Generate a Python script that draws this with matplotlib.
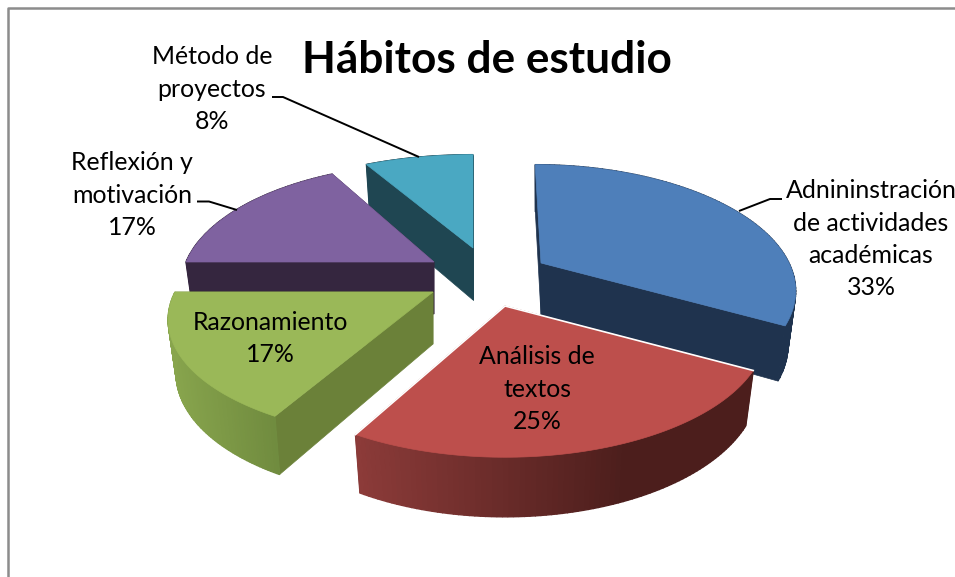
import numpy as np
import matplotlib
matplotlib.use('Agg')
import matplotlib.pyplot as plt
from matplotlib.colors import to_rgb

plt.rcParams['font.family'] = ['Lato', 'DejaVu Sans']

titulo = 'Hábitos de estudio'
categorias = ['Adnininstración\nde actividades\nacadémicas', 'Análisis de\ntextos', 'Razonamiento',
              'Reflexión y\nmotivación', 'Método de\nproyectos']
valores = [33, 25, 17, 17, 8]

colores = ['#4e7fba', '#bd4f4c', '#9ab858', '#7f62a0', '#4aa8c2']
caras = ['#1f334e', '#4e1f1d', '#6b8139', '#35263f', '#1f4652']
# shade of the outer rim, left end -> right end
rim_izq = ['#1f334e', '#8c3b39', '#88a54d', '#35263f', '#1f4652']
rim_der = ['#1f334e', '#4c1e1c', '#6f8a3e', '#35263f', '#1f4652']

# per slice geometry, pixels: apex x, apex y, radius x, radius y, skew
vertices = [(541, 263), (505, 306), (433, 292), (434, 262), (473, 248)]
radio_x = [248, 256, 258, 248, 260]
radio_y = [118, 121, 117, 118, 112]
sesgo = [7, 0, -7, 0, 0]
PERSP = 0.2
ALTO = 52

# back to front
orden = [4, 3, 0, 2, 1]

# text centre x, first line y
etiq_pos = [(871, 191), (537, 357), (270, 322), (132, 163), (212, 57)]
guias = [[(782, 199), (770, 199), (739, 211)], None, None,
         [(197, 201.5), (209, 201.5), (237, 210)],
         [(272, 97), (283, 97), (419, 157)]]


def borde(i, t):
    # top edge of slice i for angles t (degrees, clockwise from 12 o'clock)
    t = np.radians(t)
    w = 1 + PERSP * np.cos(t)
    x = (radio_x[i] * np.sin(t) - sesgo[i] * np.cos(t)) / w
    y = -radio_y[i] * np.cos(t) / w
    return vertices[i][0] + x, vertices[i][1] + y


def abajo(i, x, y):
    # same points on the bottom face
    x0, y0 = vertices[i]
    return x0 + (x - x0) * 0.97, y0 + (y - y0) * 1.05 + ALTO


def mezcla(c1, c2, f):
    return tuple((1 - f) * a + f * b for a, b in zip(to_rgb(c1), to_rgb(c2)))


fig = plt.figure(figsize=(9.55, 5.77), dpi=100)
ax = fig.add_axes([0, 0, 1, 1])
ax.set_xlim(0, 955)
ax.set_ylim(577, 0)
ax.axis('off')

# chart frame, runs off the picture at right and bottom
ax.plot([8, 8, 955], [577, 8, 8], color='#8c8c8c', lw=1.8)

fin = np.cumsum(valores) / np.sum(valores) * 360
ini = np.concatenate([[0], fin[:-1]])

for i in orden:
    t = np.linspace(ini[i], fin[i], 90)
    x, y = borde(i, t)
    xb, yb = abajo(i, x, y)
    x0, y0 = vertices[i]
    yb0 = y0 + ALTO
    z = 1 + orden.index(i)

    # cut faces
    for k in [-1, 0]:
        ax.fill([x0, x[k], xb[k], x0], [y0, y[k], yb[k], yb0], color=caras[i], lw=0.5, zorder=z)

    # rim as small quads for the gradient
    for j in range(len(t) - 1):
        xm = (x[j] + x[j + 1]) / 2
        if i == 1:
            f = np.clip((xm - 356) / (625 - 356), 0, 1)
        elif i == 2:
            f = np.clip((xm - 168) / (280 - 168), 0, 1)
        else:
            f = 0
        c = mezcla(rim_izq[i], rim_der[i], f)
        ax.fill([x[j], x[j + 1], xb[j + 1], xb[j]], [y[j], y[j + 1], yb[j + 1], yb[j]],
                color=c, lw=1.0, zorder=z)

    # top
    ax.fill(np.r_[x0, x], np.r_[y0, y], color=colores[i], lw=0.5, zorder=z)
    if i == 1:
        ax.plot([x[-1], x0, x[0]], [y[-1], y0, y[0]], color='white', lw=1.2, zorder=z)

# labels
for i, nombre in enumerate(categorias):
    lineas = nombre.split('\n') + ['%d%%' % valores[i]]
    xt, yt = etiq_pos[i]
    for n, l in enumerate(lineas):
        ax.text(xt, yt + n * 32.3, l, ha='center', va='center', fontsize=17.9, color='black', zorder=10)
    if guias[i]:
        g = np.array(guias[i])
        ax.plot(g[:, 0], g[:, 1], color='black', lw=1.4, zorder=10, solid_capstyle='butt')

ax.text(487, 60, titulo, ha='center', va='center', fontsize=31.8, fontweight='bold', color='black', zorder=10)

fig.savefig('out.png', dpi=100)
